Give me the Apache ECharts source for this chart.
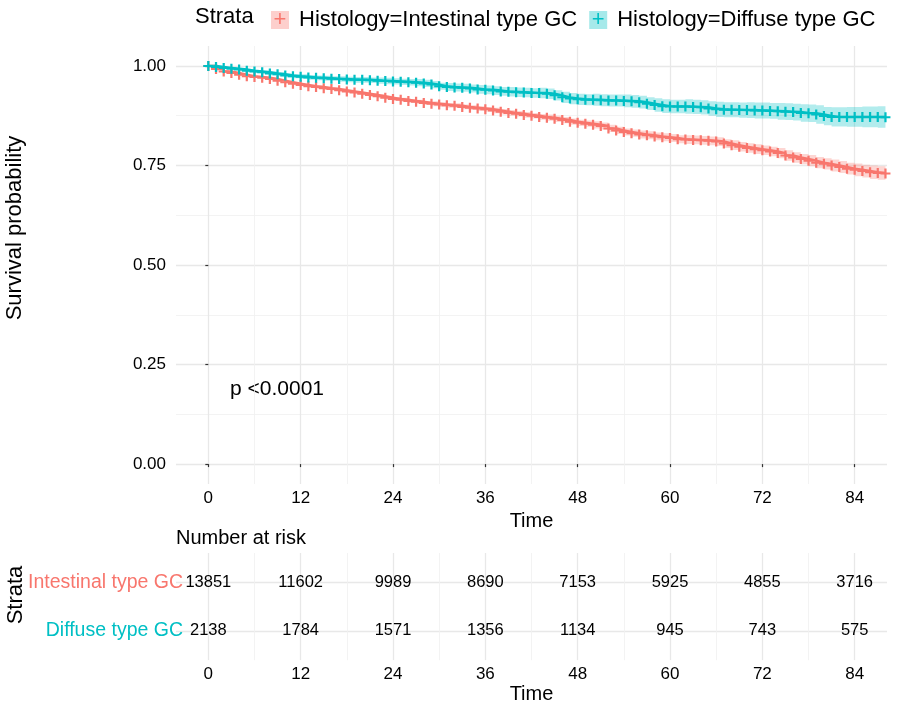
<!DOCTYPE html>
<html>
<head>
<meta charset="utf-8">
<script src="https://cdn.jsdelivr.net/npm/echarts@6/dist/echarts.min.js"></script>
<style>
  html, body { margin: 0; padding: 0; background: #fff; }
  #chart { width: 900px; height: 705px; }
</style>
</head>
<body>
<div id="chart"></div>
<script>
// time grid (months)
const months = [
  0, 1, 2, 3, 4, 5, 6, 7, 8, 9,
  10, 11, 12, 13, 14, 15, 16, 17, 18, 19,
  20, 21, 22, 23, 24, 25, 26, 27, 28, 29,
  30, 31, 32, 33, 34, 35, 36, 37, 38, 39,
  40, 41, 42, 43, 44, 45, 46, 47, 48, 49,
  50, 51, 52, 53, 54, 55, 56, 57, 58, 59,
  60, 61, 62, 63, 64, 65, 66, 67, 68, 69,
  70, 71, 72, 73, 74, 75, 76, 77, 78, 79,
  80, 81, 82, 83, 84, 85, 86, 87, 88
];

// survival, Intestinal type GC
const survIntestinal = [
  1.000, 0.992, 0.986, 0.982, 0.978, 0.974, 0.972, 0.970, 0.967, 0.963,
  0.959, 0.955, 0.952, 0.949, 0.947, 0.944, 0.942, 0.939, 0.936, 0.933,
  0.930, 0.927, 0.924, 0.920, 0.917, 0.915, 0.912, 0.910, 0.907, 0.905,
  0.903, 0.901, 0.900, 0.897, 0.895, 0.893, 0.891, 0.888, 0.885, 0.882,
  0.880, 0.877, 0.875, 0.872, 0.870, 0.867, 0.864, 0.860, 0.857, 0.855,
  0.852, 0.849, 0.843, 0.838, 0.834, 0.831, 0.828, 0.826, 0.823, 0.821,
  0.819, 0.816, 0.815, 0.814, 0.813, 0.812, 0.810, 0.805, 0.801, 0.797,
  0.794, 0.791, 0.788, 0.785, 0.781, 0.775, 0.770, 0.766, 0.762, 0.757,
  0.754, 0.750, 0.746, 0.742, 0.739, 0.736, 0.733, 0.731, 0.730
];

// survival, Diffuse type GC
const survDiffuse = [
  1.000, 0.997, 0.995, 0.993, 0.991, 0.988, 0.986, 0.984, 0.981, 0.979,
  0.976, 0.974, 0.973, 0.971, 0.970, 0.969, 0.968, 0.967, 0.966, 0.965,
  0.965, 0.964, 0.963, 0.962, 0.961, 0.960, 0.959, 0.958, 0.956, 0.953,
  0.949, 0.947, 0.946, 0.945, 0.943, 0.941, 0.940, 0.938, 0.936, 0.935,
  0.934, 0.933, 0.932, 0.932, 0.930, 0.926, 0.921, 0.918, 0.916, 0.915,
  0.915, 0.914, 0.913, 0.913, 0.912, 0.911, 0.909, 0.905, 0.902, 0.899,
  0.898, 0.898, 0.898, 0.897, 0.896, 0.893, 0.891, 0.890, 0.890, 0.889,
  0.889, 0.888, 0.888, 0.887, 0.886, 0.885, 0.884, 0.882, 0.881, 0.878,
  0.874, 0.872, 0.872, 0.872, 0.872, 0.872, 0.872, 0.872, 0.871
];

// half width of the confidence band
const ciIntestinal = [
  0.000, 0.001, 0.001, 0.002, 0.002, 0.002, 0.002, 0.003, 0.003, 0.003,
  0.003, 0.003, 0.003, 0.004, 0.004, 0.004, 0.004, 0.004, 0.004, 0.004,
  0.004, 0.005, 0.005, 0.005, 0.005, 0.005, 0.005, 0.005, 0.005, 0.006,
  0.006, 0.006, 0.006, 0.006, 0.006, 0.006, 0.006, 0.007, 0.007, 0.007,
  0.007, 0.007, 0.007, 0.007, 0.008, 0.008, 0.008, 0.008, 0.008, 0.008,
  0.009, 0.009, 0.009, 0.009, 0.009, 0.009, 0.010, 0.010, 0.010, 0.010,
  0.010, 0.010, 0.011, 0.011, 0.011, 0.011, 0.011, 0.011, 0.012, 0.012,
  0.012, 0.012, 0.012, 0.012, 0.013, 0.013, 0.013, 0.013, 0.014, 0.014,
  0.014, 0.015, 0.015, 0.015, 0.016, 0.016, 0.017, 0.017, 0.017
];
const ciDiffuse = [
  0.000, 0.002, 0.002, 0.003, 0.003, 0.004, 0.004, 0.004, 0.005, 0.005,
  0.005, 0.005, 0.006, 0.006, 0.006, 0.006, 0.006, 0.007, 0.007, 0.007,
  0.007, 0.007, 0.008, 0.008, 0.008, 0.008, 0.008, 0.009, 0.009, 0.009,
  0.009, 0.010, 0.010, 0.010, 0.010, 0.011, 0.011, 0.011, 0.011, 0.012,
  0.012, 0.012, 0.012, 0.013, 0.013, 0.013, 0.014, 0.014, 0.014, 0.014,
  0.015, 0.015, 0.015, 0.015, 0.016, 0.016, 0.016, 0.016, 0.017, 0.017,
  0.017, 0.017, 0.018, 0.018, 0.018, 0.018, 0.019, 0.019, 0.019, 0.019,
  0.020, 0.020, 0.020, 0.020, 0.021, 0.021, 0.021, 0.022, 0.022, 0.023,
  0.023, 0.024, 0.024, 0.025, 0.025, 0.026, 0.026, 0.027, 0.027
];

// number at risk table
const riskTimes = [0, 12, 24, 36, 48, 60, 72, 84];
const riskIntestinal = [13851, 11602, 9989, 8690, 7153, 5925, 4855, 3716];
const riskDiffuse = [2138, 1784, 1571, 1356, 1134, 945, 743, 575];

const xTicks = [0, 12, 24, 36, 48, 60, 72, 84];
const xMinor = [6, 18, 30, 42, 54, 66, 78];
const yTicks = [0, 0.25, 0.5, 0.75, 1];
const yMinor = [0.125, 0.375, 0.625, 0.875];

const nameIntestinal = 'Histology=Intestinal type GC';
const nameDiffuse = 'Histology=Diffuse type GC';
const RED = '#F8766D';
const CYAN = '#00BFC4';
const FONT = '"Liberation Sans", Arial, sans-serif';

const chart = echarts.init(document.getElementById('chart'));

const plusSymbol = 'path://M3.5,0 H5.5 V9 H3.5 Z M0,3.6 H9 V5.4 H0 Z';

const pairs = (vals) => months.map((t, i) => [t, vals[i]]);

// confidence band: one step-shaped polygon, projected with the axes
const bandSeries = (surv, ci, color) => ({
    type: 'custom', xAxisIndex: 0, yAxisIndex: 0,
    data: [0], silent: true, z: 1,
    renderItem: (params, api) => {
        const n = months.length;
        const top = [];
        const bottom = [];
        for (let i = 0; i < n; i++) {
            const t0 = months[i];
            const t1 = i < n - 1 ? months[i + 1] : months[i];
            top.push(api.coord([t0, surv[i] + ci[i]]), api.coord([t1, surv[i] + ci[i]]));
            bottom.push(api.coord([t0, surv[i] - ci[i]]), api.coord([t1, surv[i] - ci[i]]));
        }
        return {
            type: 'polygon',
            shape: {points: top.concat(bottom.reverse())},
            style: {fill: color}
        };
    }
});

const survSeries = (name, surv, color) => ({
    name: name,
    type: 'line', xAxisIndex: 0, yAxisIndex: 0, step: 'end',
    data: pairs(surv),
    symbol: plusSymbol, symbolSize: 10, showAllSymbol: true,
    itemStyle: {color: color},
    lineStyle: {color: color, width: 2.5},
    z: 3
});

const riskSeries = (row, counts) => ({
    type: 'scatter', xAxisIndex: 2, yAxisIndex: 2,
    data: riskTimes.map((t, i) => [t, row, counts[i]]),
    symbolSize: 0,
    itemStyle: {opacity: 1},
    label: {
        show: true, position: 'inside', formatter: p => p.value[2],
        color: '#000', fontSize: 16.5, fontFamily: FONT
    },
    silent: true
});

const majorSplit = {show: true, lineStyle: {color: '#e8e8e8', width: 1.3}};
const minorSplit = {show: true, lineStyle: {color: '#f0f0f0', width: 0.8}};
const tickLabel = {fontSize: 17, color: '#000', fontFamily: FONT};

const option = {
    animation: false,
    backgroundColor: '#fff',
    grid: [
        {left: 176, right: 13, top: 46, height: 438},
        {left: 176, right: 13, top: 553, height: 108}
    ],
    xAxis: [
        {
            type: 'value', gridIndex: 0, min: -4.2, max: 88.2,
            axisLine: {show: false},
            axisTick: {show: true, length: 3, lineStyle: {color: '#333', width: 1.2}, customValues: xTicks},
            axisLabel: Object.assign({customValues: xTicks, margin: 6}, tickLabel),
            splitLine: majorSplit,
            name: 'Time', nameLocation: 'middle', nameGap: 18,
            nameTextStyle: {fontSize: 20, color: '#000', fontFamily: FONT, verticalAlign: 'top'}
        },
        {
            type: 'value', gridIndex: 0, min: -4.2, max: 88.2,
            axisLine: {show: false}, axisLabel: {show: false, customValues: xMinor},
            axisTick: {show: false, customValues: xMinor},
            splitLine: minorSplit
        },
        {
            type: 'value', gridIndex: 1, min: -4.2, max: 88.2,
            axisLine: {show: false},
            axisTick: {show: false, customValues: xTicks},
            axisLabel: Object.assign({customValues: xTicks, margin: 6}, tickLabel),
            splitLine: majorSplit,
            name: 'Time', nameLocation: 'middle', nameGap: 19,
            nameTextStyle: {fontSize: 20, color: '#000', fontFamily: FONT, verticalAlign: 'top'}
        },
        {
            type: 'value', gridIndex: 1, min: -4.2, max: 88.2,
            axisLine: {show: false}, axisLabel: {show: false, customValues: xMinor},
            axisTick: {show: false, customValues: xMinor},
            splitLine: minorSplit
        }
    ],
    yAxis: [
        {
            type: 'value', gridIndex: 0, min: -0.05, max: 1.05,
            axisLine: {show: false},
            axisTick: {show: true, length: 3, lineStyle: {color: '#333', width: 1.2}, customValues: yTicks},
            axisLabel: Object.assign({customValues: yTicks, margin: 10, formatter: v => v.toFixed(2)}, tickLabel),
            splitLine: majorSplit
        },
        {
            type: 'value', gridIndex: 0, min: -0.05, max: 1.05,
            axisLine: {show: false}, axisLabel: {show: false, customValues: yMinor},
            axisTick: {show: false, customValues: yMinor},
            splitLine: minorSplit
        },
        {
            type: 'value', gridIndex: 1, min: 0.4, max: 2.6,
            axisLine: {show: false},
            axisTick: {show: false, customValues: [1, 2]},
            axisLabel: {
                customValues: [1, 2], margin: -7, fontFamily: FONT, fontSize: 19.5,
                formatter: v => v === 2 ? '{r|Intestinal type GC}' : '{c|Diffuse type GC}',
                rich: {
                    r: {color: RED, fontSize: 19.5, fontFamily: FONT},
                    c: {color: CYAN, fontSize: 19.5, fontFamily: FONT}
                }
            },
            splitLine: majorSplit
        }
    ],
    legend: {
        data: [nameIntestinal, nameDiffuse],
        left: 260, top: 2,
        itemWidth: 0, itemHeight: 0, itemGap: 6,
        selectedMode: false,
        formatter: name => (name === nameIntestinal ? '{kr|+}' : '{kc|+}') + '{sp| }' + name,
        textStyle: {
            fontSize: 22, color: '#000', fontFamily: FONT, lineHeight: 26,
            rich: {
                kr: {width: 18, height: 18, lineHeight: 18, align: 'center', backgroundColor: 'rgba(248,118,109,0.35)',
                     color: RED, fontSize: 22, fontFamily: FONT},
                kc: {width: 18, height: 18, lineHeight: 18, align: 'center', backgroundColor: 'rgba(0,191,196,0.35)',
                     color: CYAN, fontSize: 22, fontFamily: FONT},
                sp: {width: 10}
            }
        }
    },
    graphic: [
        {type: 'text', x: 195, y: 17, style: {text: 'Strata', font: '22px ' + FONT, fill: '#000', verticalAlign: 'middle'}},
        {type: 'text', x: 15, y: 228, rotation: Math.PI / 2,
         style: {text: 'Survival probability', font: '22px ' + FONT, fill: '#000', align: 'center', verticalAlign: 'middle'}},
        {type: 'text', x: 230, y: 389, style: {text: 'p <0.0001', font: '21px ' + FONT, fill: '#000', verticalAlign: 'middle'}},
        {type: 'text', x: 176, y: 538, style: {text: 'Number at risk', font: '20px ' + FONT, fill: '#000', verticalAlign: 'middle'}},
        {type: 'text', x: 15.5, y: 595, rotation: Math.PI / 2,
         style: {text: 'Strata', font: '22px ' + FONT, fill: '#000', align: 'center', verticalAlign: 'middle'}}
    ],
    series: [
        bandSeries(survIntestinal, ciIntestinal, 'rgba(248,118,109,0.3)'),
        bandSeries(survDiffuse, ciDiffuse, 'rgba(0,191,196,0.3)'),
        survSeries(nameIntestinal, survIntestinal, RED),
        survSeries(nameDiffuse, survDiffuse, CYAN),
        riskSeries(2, riskIntestinal),
        riskSeries(1, riskDiffuse)
    ]
};

chart.setOption(option);
</script>
</body>
</html>
